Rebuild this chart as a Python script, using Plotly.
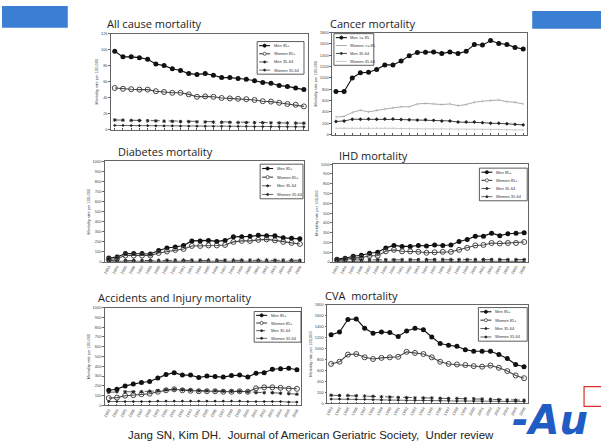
import plotly.graph_objects as go

W, H = 601, 448
years = list(range(1983, 2007))
year_labels = [str(y) for y in years]

# All cause mortality (per 100,000)
all_men85 = [9800, 9100, 9100, 9000, 8800, 8200, 8000, 7600, 7400, 7000, 6900, 7000,
             6800, 6500, 6500, 6400, 6300, 6100, 5900, 5800, 5500, 5400, 5200, 5000]
all_women85 = [5200, 5100, 5050, 5000, 5000, 4800, 4700, 4600, 4600, 4400, 4100, 4150,
               4100, 3950, 3900, 3850, 3800, 3700, 3550, 3500, 3350, 3200, 3100, 2900]
all_men3564 = [1200, 1180, 1150, 1130, 1100, 1080, 1050, 1030, 1000, 990, 970, 950,
               930, 910, 900, 880, 870, 860, 850, 840, 830, 820, 810, 800]
all_women3564 = [520, 510, 500, 490, 480, 470, 460, 450, 440, 430, 420, 415,
                 410, 400, 395, 390, 385, 380, 375, 370, 365, 360, 355, 350]

# Cancer mortality
can_men85 = [760, 760, 1000, 1090, 1100, 1150, 1230, 1230, 1300, 1390, 1450, 1455,
             1460, 1430, 1460, 1430, 1470, 1590, 1580, 1660, 1610, 1590, 1540, 1510]
can_women85 = [310, 320, 390, 430, 400, 430, 450, 470, 490, 490, 540, 550,
               540, 530, 540, 510, 530, 570, 590, 600, 610, 580, 570, 540]
can_men3564 = [230, 240, 270, 270, 275, 270, 275, 275, 265, 260, 255, 260,
               250, 240, 240, 220, 220, 220, 210, 200, 200, 190, 180, 170]
can_women3564 = [110, 110, 115, 120, 115, 115, 115, 110, 105, 100, 100, 100,
                 100, 100, 100, 95, 95, 95, 90, 90, 90, 85, 80, 80]

# Diabetes mortality
dm_men85 = [40, 50, 85, 85, 85, 80, 115, 140, 150, 165, 210, 210,
            215, 205, 215, 250, 250, 255, 265, 260, 260, 240, 235, 230]
dm_women85 = [25, 35, 65, 65, 65, 65, 90, 105, 120, 130, 160, 160,
              165, 165, 170, 200, 210, 210, 220, 225, 215, 200, 190, 180]
dm_men3564 = [15, 15, 18, 18, 18, 18, 18, 20, 20, 20, 20, 20,
              20, 20, 20, 20, 20, 20, 20, 20, 20, 20, 20, 18]
dm_women3564 = [8, 8, 9, 9, 9, 9, 9, 10, 10, 10, 10, 10,
                10, 10, 10, 10, 10, 10, 10, 10, 10, 10, 9, 9]

# IHD mortality
ihd_men85 = [30, 40, 60, 70, 90, 100, 145, 170, 160, 160, 170, 165,
             175, 170, 175, 210, 230, 265, 265, 295, 270, 290, 295, 300]
ihd_women85 = [20, 25, 40, 45, 65, 65, 110, 125, 110, 110, 105, 95,
               100, 105, 105, 125, 145, 170, 175, 195, 190, 195, 195, 205]
ihd_men3564 = [22, 22, 23, 23, 24, 24, 25, 25, 25, 25, 25, 25,
               26, 26, 26, 26, 26, 26, 26, 26, 26, 26, 26, 26]
ihd_women3564 = [7, 7, 7, 7, 8, 8, 8, 8, 8, 8, 8, 8,
                 8, 8, 8, 8, 8, 8, 8, 8, 8, 8, 8, 8]

# Accidents and injury mortality
acc_men85 = [155, 165, 200, 220, 235, 245, 280, 315, 335, 310, 310, 285,
             300, 295, 290, 305, 310, 290, 330, 335, 370, 375, 380, 365]
acc_women85 = [75, 80, 100, 105, 115, 120, 140, 155, 165, 155, 150, 145,
               145, 145, 140, 140, 145, 140, 175, 185, 185, 180, 170, 170]
acc_men3564 = [135, 140, 140, 140, 140, 145, 150, 160, 165, 160, 155, 150,
               150, 150, 145, 145, 145, 140, 130, 130, 130, 125, 120, 115]
acc_women3564 = [40, 40, 40, 40, 40, 40, 45, 45, 45, 45, 45, 45,
                 45, 45, 45, 45, 45, 40, 40, 40, 40, 40, 35, 35]

# CVA mortality
cva_men85 = [1250, 1300, 1530, 1540, 1370, 1280, 1300, 1290, 1220, 1320, 1370, 1340,
             1210, 1090, 1060, 1040, 980, 950, 950, 950, 890, 820, 710, 670]
cva_women85 = [720, 760, 890, 900, 840, 810, 830, 840, 850, 940, 920, 900,
               840, 760, 720, 710, 700, 680, 670, 690, 650, 590, 510, 460]
cva_men3564 = [150, 145, 145, 140, 135, 130, 120, 115, 110, 105, 100, 100,
               100, 95, 90, 90, 85, 85, 80, 75, 70, 65, 60, 60]
cva_women3564 = [80, 80, 80, 75, 75, 70, 65, 60, 60, 55, 55, 55,
                 50, 50, 50, 45, 45, 45, 40, 40, 40, 35, 35, 35]

series_names = ["Men 85+", "Women 85+", "Men 35-64", "Women 35-64"]
cancer_names = ["Men >= 85", "Women >= 85", "Men 35-64", "Women 35-64"]

# panel: title, data, y range, y step, plot box in px (left, top, right, bottom),
# title position, legend box (left, top, right, bottom), show x labels, names
panels = [
    dict(title="All cause mortality", data=[all_men85, all_women85, all_men3564, all_women3564],
         yr=12000, dt=2000, box=(109, 31, 307, 128), tpos=(103, 11), leg=(256, 39, 303, 72),
         xlab=False, names=series_names, style="std"),
    dict(title="Cancer mortality", data=[can_men85, can_women85, can_men3564, can_women3564],
         yr=1800, dt=200, box=(331, 30, 527, 133), tpos=(327, 11), leg=(333, 31, 373, 63),
         xlab=False, names=cancer_names, style="cancer"),
    dict(title="Diabetes mortality", data=[dm_men85, dm_women85, dm_men3564, dm_women3564],
         yr=1000, dt=100, box=(103, 160, 303, 262), tpos=(114, 141), leg=(259, 163, 302, 198),
         xlab=True, names=series_names, style="std"),
    dict(title="IHD mortality", data=[ihd_men85, ihd_women85, ihd_men3564, ihd_women3564],
         yr=1000, dt=100, box=(332, 163, 528, 262), tpos=(336, 145), leg=(479, 167, 527, 200),
         xlab=True, names=series_names, style="std"),
    dict(title="Accidents and Injury mortality", data=[acc_men85, acc_women85, acc_men3564, acc_women3564],
         yr=1000, dt=100, box=(103, 308, 300, 407), tpos=(94, 288), leg=(253, 312, 300, 343),
         xlab=True, names=series_names, style="std"),
    dict(title="CVA  mortality", data=[cva_men85, cva_women85, cva_men3564, cva_women3564],
         yr=1800, dt=200, box=(326, 305, 528, 405), tpos=(322, 286), leg=(478, 308, 527, 342),
         xlab=True, names=series_names, style="std"),
]

STYLES = {
    "std": [
        dict(line=dict(color="#111", width=1.1), marker=dict(symbol="circle", size=5, color="#111")),
        dict(line=dict(color="#444", width=1.1), marker=dict(symbol="circle-open", size=5, color="#444", line=dict(width=1))),
        dict(line=dict(color="#333", width=0.8, dash="dash"), marker=dict(symbol="asterisk-open", size=3, color="#222", line=dict(width=1))),
        dict(line=dict(color="#444", width=0.8), marker=dict(symbol="diamond", size=2.5, color="#222")),
    ],
    "cancer": [
        dict(line=dict(color="#111", width=1.1), marker=dict(symbol="circle", size=5, color="#111")),
        dict(line=dict(color="#aaa", width=1.0), marker=dict(symbol="line-ns-open", size=2, color="#aaa", line=dict(width=0.6))),
        dict(line=dict(color="#333", width=0.9), marker=dict(symbol="diamond", size=3, color="#222")),
        dict(line=dict(color="#bbb", width=0.8), marker=dict(symbol="line-ns-open", size=2, color="#bbb", line=dict(width=0.5))),
    ],
}


def px(x):
    return x / W


def py(y):
    return 1 - y / H


fig = go.Figure()
layout = dict(
    width=W, height=H, margin=dict(l=0, r=0, t=0, b=0),
    paper_bgcolor="white", plot_bgcolor="white", showlegend=False,
    font=dict(family="Liberation Sans, Arial, sans-serif", color="#333"),
)
shapes = []
annotations = []

for i, p in enumerate(panels, start=1):
    suffix = "" if i == 1 else str(i)
    l, t, r, b = p["box"]
    for k, vals in enumerate(p["data"]):
        st = STYLES[p["style"]][k]
        fig.add_trace(go.Scatter(
            x=years, y=vals, mode="lines+markers", name=p["names"][k],
            line=st["line"], marker=st["marker"],
            xaxis="x" + suffix, yaxis="y" + suffix, hoverinfo="skip",
        ))
    layout["xaxis" + suffix] = dict(
        domain=[px(l), px(r)], anchor="y" + suffix, range=[1982.5, 2006.5],
        tickvals=years, ticktext=year_labels, tickangle=-60,
        showticklabels=p["xlab"], tickfont=dict(size=4, color="#444"),
        ticks="inside", ticklen=2, tickcolor="#555",
        showline=True, linecolor="#666", linewidth=0.8, mirror=True,
        showgrid=False, zeroline=False, fixedrange=True,
    )
    layout["yaxis" + suffix] = dict(
        domain=[py(b), py(t)], anchor="x" + suffix, range=[0, p["yr"]], dtick=p["dt"],
        tickfont=dict(size=4, color="#444"), ticks="outside", ticklen=1.5, tickcolor="#666",
        showline=True, linecolor="#666", linewidth=0.8, mirror=True,
        showgrid=False, zeroline=False, fixedrange=True,
        title=dict(text="Mortality rate per 100,000", font=dict(size=4, color="#444"), standoff=2),
    )
    # panel title
    tx, ty = p["tpos"]
    annotations.append(dict(
        text=p["title"], x=px(tx), y=py(ty), xref="paper", yref="paper",
        xanchor="left", yanchor="top", showarrow=False,
        font=dict(family="Open Sans, Noto Sans, sans-serif", size=11, color="#222"),
    ))
    # compact legend box
    ll, lt, lr, lb = p["leg"]
    shapes.append(dict(type="rect", xref="paper", yref="paper",
                       x0=px(ll), x1=px(lr), y0=py(lb), y1=py(lt),
                       line=dict(color="#333", width=0.8), fillcolor="white"))
    row_h = (lb - lt) / 4.0
    for k, name in enumerate(p["names"]):
        st = STYLES[p["style"]][k]
        cy = lt + row_h * (k + 0.5)
        x0s, x1s = ll + 2, ll + 13
        lc = st["line"]["color"]
        shapes.append(dict(type="line", xref="paper", yref="paper",
                           x0=px(x0s), x1=px(x1s), y0=py(cy), y1=py(cy),
                           line=dict(color=lc, width=st["line"]["width"],
                                     dash=st["line"].get("dash", "solid"))))
        sym = st["marker"]["symbol"]
        mx = (x0s + x1s) / 2
        rad = 1.6 if "circle" in sym else 1.0
        if "line-ns" not in sym:
            shapes.append(dict(type="circle", xref="paper", yref="paper",
                               x0=px(mx - rad), x1=px(mx + rad), y0=py(cy + rad), y1=py(cy - rad),
                               line=dict(color=st["marker"]["color"], width=0.8),
                               fillcolor="white" if "open" in sym and "asterisk" not in sym else st["marker"]["color"]))
        annotations.append(dict(
            text=name, x=px(x1s + 1.5), y=py(cy), xref="paper", yref="paper",
            xanchor="left", yanchor="middle", showarrow=False,
            font=dict(size=4, color="#333"),
        ))

# slide decorations: header bars, logo and citation
shapes.append(dict(type="rect", xref="paper", yref="paper", x0=0, x1=px(66), y0=py(25), y1=py(3),
                   line=dict(width=0), fillcolor="#3a7fd4"))
shapes.append(dict(type="rect", xref="paper", yref="paper", x0=px(532), x1=1, y0=py(26), y1=py(8),
                   line=dict(width=0), fillcolor="#3a7fd4"))
shapes.append(dict(type="rect", xref="paper", yref="paper", x0=px(584), x1=px(603), y0=py(408), y1=py(388),
                   line=dict(color="#d9302c", width=1.2), fillcolor="rgba(0,0,0,0)"))

annotations.append(dict(
    text="Jang SN, Kim DH.  Journal of American Geriatric Society,  Under review",
    x=px(310), y=py(437), xref="paper", yref="paper", xanchor="center", yanchor="middle",
    showarrow=False, font=dict(family="Liberation Sans, Arial, sans-serif", size=11.5, color="#222"),
))
annotations.append(dict(
    text="<b><i>-Au</i></b>", x=px(510), y=py(422), xref="paper", yref="paper",
    xanchor="left", yanchor="middle", showarrow=False,
    font=dict(family="DejaVu Sans, sans-serif", size=40, color="#1f5cc4"),
))

layout["shapes"] = shapes
layout["annotations"] = annotations
fig.update_layout(**layout)
fig.write_html("out.html")
